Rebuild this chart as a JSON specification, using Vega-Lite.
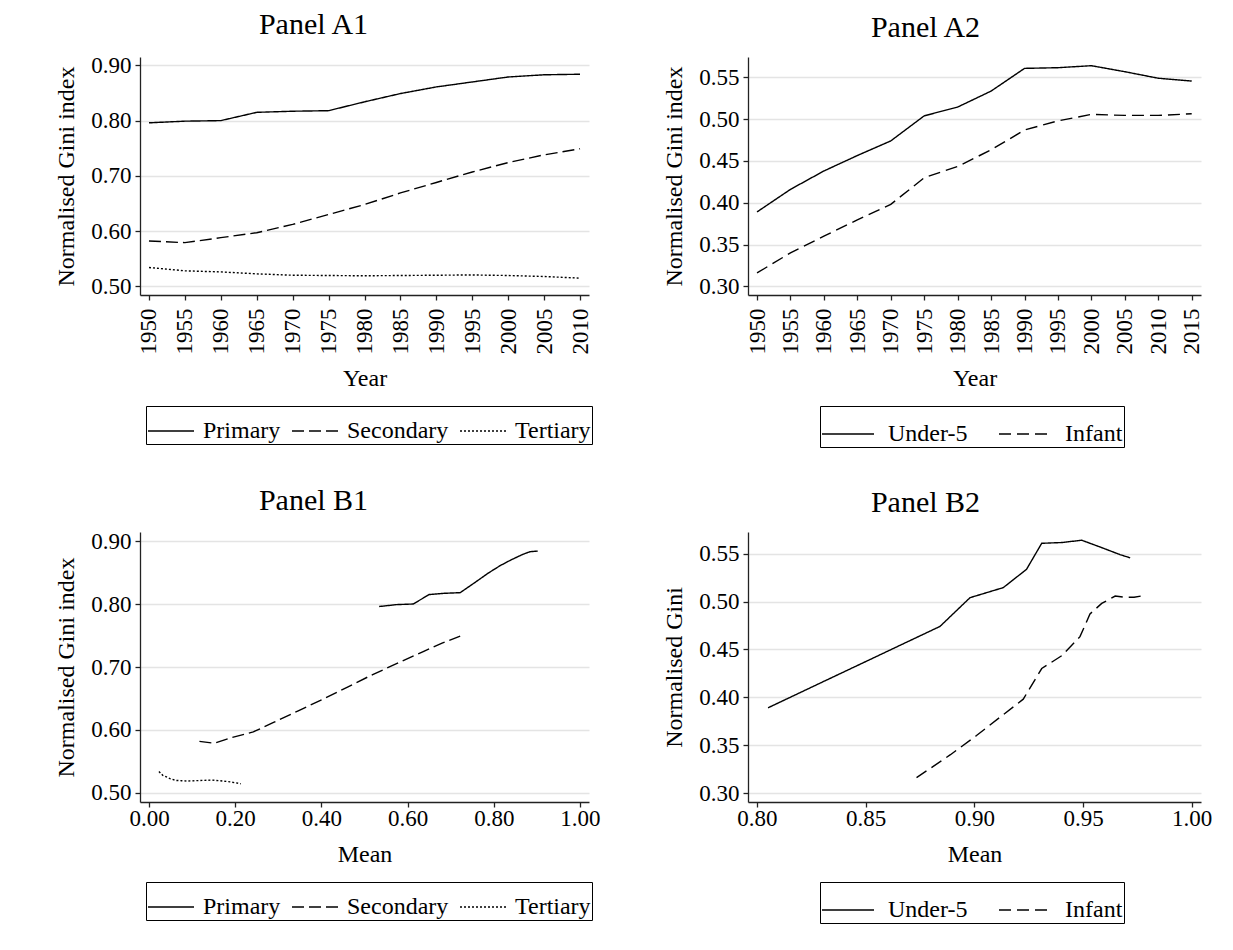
{
  "$schema": "https://vega.github.io/schema/vega-lite/v6.json",
  "background": "white",
  "padding": {"left": 54, "top": 10, "right": 0, "bottom": 0},
  "config": {
    "font": "Liberation Serif",
    "view": {"stroke": null},
    "axis": {
      "domainColor": "#222222", "domainWidth": 1.3,
      "tickColor": "#222222", "tickSize": 5, "tickWidth": 1.3,
      "labelFontSize": 23, "labelColor": "black", "labelPadding": 4,
      "labelFlush": false, "labelOverlap": false,
      "titleFontSize": 24, "titleFontWeight": "normal", "titleColor": "black",
      "gridColor": "#e4e4e4", "gridWidth": 1.5
    },
    "axisX": {"grid": false, "titlePadding": 12},
    "axisY": {"grid": true, "titlePadding": 12},
    "title": {"fontSize": 30, "fontWeight": "normal", "color": "black", "anchor": "middle", "offset": 14},
    "legend": {
      "orient": "none", "direction": "horizontal", "title": null,
      "strokeColor": "black", "fillColor": "white", "padding": 1,
      "symbolType": "stroke", "symbolStrokeColor": "black", "symbolStrokeWidth": 1.4,
      "labelFontSize": 24, "labelColor": "black", "labelLimit": 400
    }
  },
  "datasets": {
    "edu": [
      {"level": "Primary", "year": 1950, "mean": 0.534, "gini": 0.796},
      {"level": "Primary", "year": 1955, "mean": 0.574, "gini": 0.799},
      {"level": "Primary", "year": 1960, "mean": 0.613, "gini": 0.800},
      {"level": "Primary", "year": 1965, "mean": 0.650, "gini": 0.815},
      {"level": "Primary", "year": 1970, "mean": 0.686, "gini": 0.817},
      {"level": "Primary", "year": 1975, "mean": 0.722, "gini": 0.818},
      {"level": "Primary", "year": 1980, "mean": 0.756, "gini": 0.834},
      {"level": "Primary", "year": 1985, "mean": 0.787, "gini": 0.849},
      {"level": "Primary", "year": 1990, "mean": 0.815, "gini": 0.861},
      {"level": "Primary", "year": 1995, "mean": 0.840, "gini": 0.870},
      {"level": "Primary", "year": 2000, "mean": 0.868, "gini": 0.879},
      {"level": "Primary", "year": 2005, "mean": 0.884, "gini": 0.883},
      {"level": "Primary", "year": 2010, "mean": 0.902, "gini": 0.884},
      {"level": "Secondary", "year": 1950, "mean": 0.117, "gini": 0.582},
      {"level": "Secondary", "year": 1955, "mean": 0.151, "gini": 0.579},
      {"level": "Secondary", "year": 1960, "mean": 0.192, "gini": 0.588},
      {"level": "Secondary", "year": 1965, "mean": 0.242, "gini": 0.597},
      {"level": "Secondary", "year": 1970, "mean": 0.289, "gini": 0.612},
      {"level": "Secondary", "year": 1975, "mean": 0.345, "gini": 0.630},
      {"level": "Secondary", "year": 1980, "mean": 0.401, "gini": 0.648},
      {"level": "Secondary", "year": 1985, "mean": 0.463, "gini": 0.669},
      {"level": "Secondary", "year": 1990, "mean": 0.519, "gini": 0.688},
      {"level": "Secondary", "year": 1995, "mean": 0.580, "gini": 0.707},
      {"level": "Secondary", "year": 2000, "mean": 0.635, "gini": 0.724},
      {"level": "Secondary", "year": 2005, "mean": 0.680, "gini": 0.738},
      {"level": "Secondary", "year": 2010, "mean": 0.722, "gini": 0.749},
      {"level": "Tertiary", "year": 1950, "mean": 0.023, "gini": 0.534},
      {"level": "Tertiary", "year": 1955, "mean": 0.032, "gini": 0.528},
      {"level": "Tertiary", "year": 1960, "mean": 0.039, "gini": 0.526},
      {"level": "Tertiary", "year": 1965, "mean": 0.050, "gini": 0.5225},
      {"level": "Tertiary", "year": 1970, "mean": 0.062, "gini": 0.520},
      {"level": "Tertiary", "year": 1975, "mean": 0.075, "gini": 0.5195},
      {"level": "Tertiary", "year": 1980, "mean": 0.090, "gini": 0.519},
      {"level": "Tertiary", "year": 1985, "mean": 0.107, "gini": 0.5195},
      {"level": "Tertiary", "year": 1990, "mean": 0.125, "gini": 0.520},
      {"level": "Tertiary", "year": 1995, "mean": 0.145, "gini": 0.5205},
      {"level": "Tertiary", "year": 2000, "mean": 0.165, "gini": 0.5195},
      {"level": "Tertiary", "year": 2005, "mean": 0.188, "gini": 0.5177},
      {"level": "Tertiary", "year": 2010, "mean": 0.213, "gini": 0.5147}
    ],
    "mort": [
      {"type": "Under-5", "year": 1950, "mean": 0.8051, "gini": 0.389},
      {"type": "Under-5", "year": 1955, "mean": 0.8302, "gini": 0.416},
      {"type": "Under-5", "year": 1960, "mean": 0.8507, "gini": 0.438},
      {"type": "Under-5", "year": 1965, "mean": 0.8679, "gini": 0.4565},
      {"type": "Under-5", "year": 1970, "mean": 0.8842, "gini": 0.474},
      {"type": "Under-5", "year": 1975, "mean": 0.8980, "gini": 0.504},
      {"type": "Under-5", "year": 1980, "mean": 0.9133, "gini": 0.5145},
      {"type": "Under-5", "year": 1985, "mean": 0.9240, "gini": 0.5336},
      {"type": "Under-5", "year": 1990, "mean": 0.9310, "gini": 0.5608},
      {"type": "Under-5", "year": 1995, "mean": 0.9402, "gini": 0.5616},
      {"type": "Under-5", "year": 2000, "mean": 0.9494, "gini": 0.564},
      {"type": "Under-5", "year": 2005, "mean": 0.9580, "gini": 0.5568},
      {"type": "Under-5", "year": 2010, "mean": 0.9670, "gini": 0.549},
      {"type": "Under-5", "year": 2015, "mean": 0.9717, "gini": 0.5456},
      {"type": "Infant", "year": 1950, "mean": 0.8734, "gini": 0.316},
      {"type": "Infant", "year": 1955, "mean": 0.8890, "gini": 0.340},
      {"type": "Infant", "year": 1960, "mean": 0.9010, "gini": 0.360},
      {"type": "Infant", "year": 1965, "mean": 0.9120, "gini": 0.3795},
      {"type": "Infant", "year": 1970, "mean": 0.9225, "gini": 0.398},
      {"type": "Infant", "year": 1975, "mean": 0.9310, "gini": 0.430},
      {"type": "Infant", "year": 1980, "mean": 0.9402, "gini": 0.4434},
      {"type": "Infant", "year": 1985, "mean": 0.9486, "gini": 0.4633},
      {"type": "Infant", "year": 1990, "mean": 0.9532, "gini": 0.487},
      {"type": "Infant", "year": 1995, "mean": 0.9586, "gini": 0.498},
      {"type": "Infant", "year": 2000, "mean": 0.9648, "gini": 0.5057},
      {"type": "Infant", "year": 2005, "mean": 0.9690, "gini": 0.5045},
      {"type": "Infant", "year": 2010, "mean": 0.9735, "gini": 0.5045},
      {"type": "Infant", "year": 2015, "mean": 0.9790, "gini": 0.5065}
    ]
  },
  "spacing": 38,
  "resolve": {"scale": {"strokeDash": "independent", "x": "independent", "y": "independent"}, "legend": {"strokeDash": "independent"}},
  "vconcat": [
    {
      "spacing": 69,
      "resolve": {"scale": {"strokeDash": "independent", "x": "independent", "y": "independent"}, "legend": {"strokeDash": "independent"}},
      "hconcat": [
        {
          "width": 449, "height": 238,
          "title": {"text": "Panel A1", "dx": -51},
          "data": {"name": "edu"},
          "mark": {"type": "line", "color": "black", "strokeWidth": 1.4},
          "encoding": {
            "x": {"field": "year", "type": "quantitative",
              "scale": {"domain": [1948.75, 2011.25], "nice": false, "zero": false},
              "axis": {"values": [1950,1955,1960,1965,1970,1975,1980,1985,1990,1995,2000,2005,2010], "format": "d", "labelAngle": -90, "labelPadding": 8, "title": "Year"}},
            "y": {"field": "gini", "type": "quantitative",
              "scale": {"domain": [0.4842, 0.9152], "nice": false, "zero": false},
              "axis": {"values": [0.5,0.6,0.7,0.8,0.9], "format": ".2f", "title": "Normalised Gini index"}},
            "strokeDash": {"field": "level", "type": "nominal",
              "scale": {"domain": ["Primary","Secondary","Tertiary"], "range": [[1,0],[12,5],[2,2]]},
              "legend": {"legendX": 6, "legendY": 349, "symbolSize": 2116, "labelOffset": 8, "columnPadding": 8}},
            "order": {"field": "year", "type": "quantitative"}
          }
        },
        {
          "width": 453, "height": 238,
          "title": {"text": "Panel A2", "dx": -49},
          "data": {"name": "mort"},
          "mark": {"type": "line", "color": "black", "strokeWidth": 1.4},
          "encoding": {
            "x": {"field": "year", "type": "quantitative",
              "scale": {"domain": [1948.65, 2016.39], "nice": false, "zero": false},
              "axis": {"values": [1950,1955,1960,1965,1970,1975,1980,1985,1990,1995,2000,2005,2010,2015], "format": "d", "labelAngle": -90, "labelPadding": 8, "title": "Year"}},
            "y": {"field": "gini", "type": "quantitative",
              "scale": {"domain": [0.2896, 0.5744], "nice": false, "zero": false},
              "axis": {"values": [0.3,0.35,0.4,0.45,0.5,0.55], "format": ".2f", "title": "Normalised Gini index"}},
            "strokeDash": {"field": "type", "type": "nominal",
              "scale": {"domain": ["Under-5","Infant"], "range": [[1,0],[12,6]]},
              "legend": {"legendX": 72, "legendY": 349, "symbolSize": 2704, "labelOffset": 13, "columnPadding": 28}},
            "order": {"field": "year", "type": "quantitative"}
          }
        }
      ]
    },
    {
      "spacing": 61,
      "resolve": {"scale": {"strokeDash": "independent", "x": "independent", "y": "independent"}, "legend": {"strokeDash": "independent"}},
      "hconcat": [
        {
          "width": 449, "height": 270,
          "title": {"text": "Panel B1", "dx": -51},
          "data": {"name": "edu"},
          "mark": {"type": "line", "color": "black", "strokeWidth": 1.4},
          "encoding": {
            "x": {"field": "mean", "type": "quantitative",
              "scale": {"domain": [-0.0209, 1.0209], "nice": false, "zero": false},
              "axis": {"values": [0,0.2,0.4,0.6,0.8,1.0], "format": ".2f", "labelPadding": 0, "title": "Mean"}},
            "y": {"field": "gini", "type": "quantitative",
              "scale": {"domain": [0.4857, 0.9143], "nice": false, "zero": false},
              "axis": {"values": [0.5,0.6,0.7,0.8,0.9], "format": ".2f", "title": "Normalised Gini index"}},
            "strokeDash": {"field": "level", "type": "nominal",
              "scale": {"domain": ["Primary","Secondary","Tertiary"], "range": [[1,0],[12,5],[2,2]]},
              "legend": {"legendX": 6, "legendY": 350, "symbolSize": 2116, "labelOffset": 8, "columnPadding": 8}},
            "order": {"field": "year", "type": "quantitative"}
          }
        },
        {
          "width": 453, "height": 270,
          "title": {"text": "Panel B2", "dx": -49},
          "data": {"name": "mort"},
          "mark": {"type": "line", "color": "black", "strokeWidth": 1.4},
          "encoding": {
            "x": {"field": "mean", "type": "quantitative",
              "scale": {"domain": [0.79586, 1.00428], "nice": false, "zero": false},
              "axis": {"values": [0.8,0.85,0.9,0.95,1.0], "format": ".2f", "labelPadding": 0, "title": "Mean"}},
            "y": {"field": "gini", "type": "quantitative",
              "scale": {"domain": [0.2906, 0.5726], "nice": false, "zero": false},
              "axis": {"values": [0.3,0.35,0.4,0.45,0.5,0.55], "format": ".2f", "title": "Normalised Gini"}},
            "strokeDash": {"field": "type", "type": "nominal",
              "scale": {"domain": ["Under-5","Infant"], "range": [[1,0],[12,6]]},
              "legend": {"legendX": 72, "legendY": 350, "symbolSize": 2704, "labelOffset": 13, "columnPadding": 28}},
            "order": {"field": "year", "type": "quantitative"}
          }
        }
      ]
    }
  ]
}
